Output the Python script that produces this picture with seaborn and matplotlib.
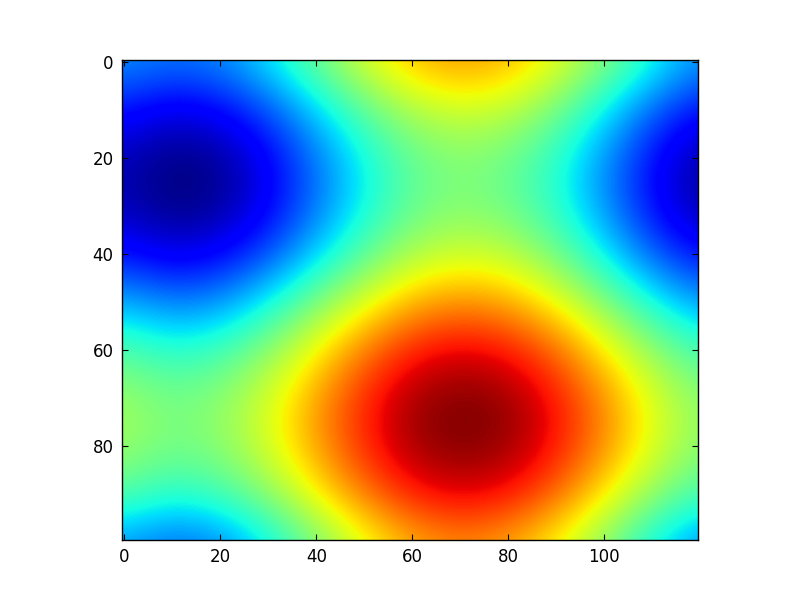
#!/usr/bin/env python3

import matplotlib
matplotlib.use('Agg')
import matplotlib.pyplot as plt
import numpy as np
import seaborn as sns

# values, on the colour scale 0-1, every 10 units
x_samples = [0, 10, 20, 30, 40, 50, 60, 70, 80, 90, 100, 110, 120]
y_samples = [0, 10, 20, 30, 40, 50, 60, 70, 80, 90, 100]
row_y0 = [.27, .24, .26, .35, .48, .61, .71, .75, .72, .63, .51, .38, .27]
row_y10 = [.14, .09, .12, .20, .33, .46, .56, .60, .58, .49, .36, .22, .13]
row_y20 = [.05, .00, .02, .11, .24, .37, .47, .51, .48, .40, .27, .13, .03]
row_y30 = [.05, .00, .02, .11, .24, .37, .47, .51, .48, .40, .27, .13, .03]
row_y40 = [.14, .09, .12, .20, .33, .46, .56, .60, .58, .49, .36, .22, .13]
row_y50 = [.30, .25, .27, .37, .50, .62, .72, .76, .73, .64, .51, .38, .28]
row_y60 = [.45, .40, .43, .52, .65, .78, .88, .92, .89, .80, .66, .53, .43]
row_y70 = [.54, .49, .52, .61, .74, .87, .97, 1.0, .98, .89, .76, .62, .52]
row_y80 = [.54, .49, .52, .61, .74, .87, .97, 1.0, .98, .89, .76, .62, .52]
row_y90 = [.45, .40, .43, .52, .65, .78, .88, .92, .89, .80, .66, .53, .43]
row_y100 = [.27, .22, .25, .35, .49, .62, .72, .76, .73, .64, .51, .36, .26]

x_ticks = [0, 20, 40, 60, 80, 100]
y_ticks = [0, 20, 40, 60, 80]


def main():
    sns.set_theme(style='ticks')
    plt.rcParams['font.family'] = ['DejaVu Sans']

    grid = np.array([row_y0, row_y10, row_y20, row_y30, row_y40, row_y50,
                     row_y60, row_y70, row_y80, row_y90, row_y100])

    fig, ax = plt.subplots(figsize=(8, 6), dpi=100)
    fig.subplots_adjust(left=0.125, right=0.9, bottom=0.1, top=0.9)

    # half a cell past the samples so the cell centres land on the sample positions
    extent = (x_samples[0] - 5, x_samples[-1] + 5, y_samples[-1] + 5, y_samples[0] - 5)
    ax.imshow(grid, cmap=plt.get_cmap('jet'), vmin=0, vmax=1,
              interpolation='bicubic', extent=extent, aspect='equal')

    ax.set_xlim(-0.5, 119.5)
    ax.set_ylim(99.5, -0.5)
    ax.set_xticks(x_ticks)
    ax.set_yticks(y_ticks)
    ax.tick_params(direction='in', top=True, right=True, length=4, width=0.8,
                   labelsize=12, color='black', labelcolor='black', pad=6)
    for spine in ax.spines.values():
        spine.set_color('black')
        spine.set_linewidth(1.0)

    fig.savefig('out.png', dpi=100)


if __name__ == "__main__":
    main()
